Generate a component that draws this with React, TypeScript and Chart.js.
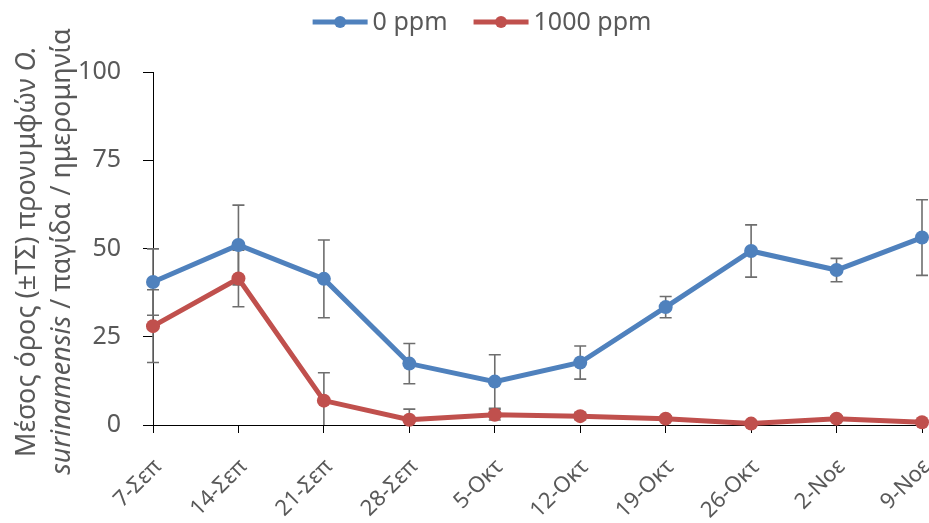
import React, { useEffect, useRef } from "react";
import { Chart, registerables } from "chart.js";

Chart.register(...registerables);

const categories = ["7-Σεπ", "14-Σεπ", "21-Σεπ", "28-Σεπ", "5-Οκτ", "12-Οκτ", "19-Οκτ", "26-Οκτ", "2-Νοε", "9-Νοε"];
const ppm0 = [40.5, 51, 41.4, 17.4, 12.3, 17.7, 33.4, 49.3, 43.9, 53.1];
const ppm0Err = [9.4, 11.3, 11, 5.7, 7.6, 4.7, 3, 7.4, 3.3, 10.7];
const ppm1000 = [28, 41.5, 6.9, 1.5, 2.9, 2.5, 1.8, 0.4, 1.8, 0.8];
const ppm1000Err = [10.3, 8, 7.9, 3, 1.5, 1, 0.8, 0.5, 0.8, 0.5];
const seriesLabels = ["0 ppm", "1000 ppm"];
const yTicks = [0, 25, 50, 75, 100];

const BLUE = "#4F81BD";
const RED = "#C0504D";
const TEXT = "#595959";
const FONT = "'Noto Sans', sans-serif";

const errorBarPlugin = {
  id: "errorBars",
  beforeDatasetsDraw(chart: any) {
    const ctx = chart.ctx;
    const y = chart.scales.y;
    const area = chart.chartArea;
    ctx.save();
    ctx.beginPath();
    ctx.rect(area.left - 20, area.top, area.right - area.left + 40, area.bottom - area.top);
    ctx.clip();
    ctx.strokeStyle = "#6E6E6E";
    ctx.lineWidth = 1.6;
    chart.data.datasets.forEach((ds: any, i: number) => {
      const meta = chart.getDatasetMeta(i);
      const errs = ds.errors || [];
      meta.data.forEach((pt: any, j: number) => {
        const v = ds.data[j];
        const e = errs[j] || 0;
        const x = pt.x;
        const yTop = y.getPixelForValue(v + e);
        const yBot = y.getPixelForValue(Math.max(0, v - e));
        ctx.beginPath();
        ctx.moveTo(x, yTop);
        ctx.lineTo(x, yBot);
        ctx.moveTo(x - 6, yTop);
        ctx.lineTo(x + 6, yTop);
        if (v - e >= 0) {
          ctx.moveTo(x - 6, yBot);
          ctx.lineTo(x + 6, yBot);
        }
        ctx.stroke();
      });
    });
    ctx.restore();
  },
};

const legendPlugin = {
  id: "customLegend",
  afterDraw(chart: any) {
    const ctx = chart.ctx;
    ctx.save();
    ctx.font = `25px ${FONT}`;
    const lineW = 55;
    const gapText = 5;
    const gapItem = 26;
    const items = chart.data.datasets.map((ds: any) => ({
      label: ds.label,
      color: ds.borderColor,
      w: ctx.measureText(ds.label).width,
    }));
    let total = 0;
    items.forEach((it: any, i: number) => {
      total += lineW + gapText + it.w + (i < items.length - 1 ? gapItem : 0);
    });
    let x = 482 - total / 2;
    const cy = 22;
    items.forEach((it: any) => {
      ctx.strokeStyle = it.color;
      ctx.lineWidth = 5;
      ctx.beginPath();
      ctx.moveTo(x, cy);
      ctx.lineTo(x + lineW, cy);
      ctx.stroke();
      ctx.fillStyle = it.color;
      ctx.beginPath();
      ctx.arc(x + lineW / 2, cy, 6, 0, Math.PI * 2);
      ctx.fill();
      ctx.fillStyle = TEXT;
      ctx.textAlign = "left";
      ctx.textBaseline = "middle";
      ctx.fillText(it.label, x + lineW + gapText, cy + 1);
      x += lineW + gapText + it.w + gapItem;
    });
    ctx.restore();
  },
};

const yTitleLines = [
  [
    { t: "Μέσος όρος (±ΤΣ) προνυμφών ", i: false },
    { t: "O.", i: true },
  ],
  [
    { t: "surinamensis", i: true },
    { t: " / παγίδα / ημερομηνία", i: false },
  ],
];

const yTitlePlugin = {
  id: "yTitle",
  afterDraw(chart: any) {
    const ctx = chart.ctx;
    const area = chart.chartArea;
    const cy = (area.top + area.bottom) / 2 + 3;
    const xs = [27, 62];
    const size = 27;
    ctx.save();
    ctx.fillStyle = TEXT;
    ctx.textBaseline = "middle";
    ctx.textAlign = "left";
    yTitleLines.forEach((segs, li) => {
      let total = 0;
      segs.forEach((s) => {
        ctx.font = `${s.i ? "italic " : ""}${size}px ${FONT}`;
        total += ctx.measureText(s.t).width;
      });
      ctx.save();
      ctx.translate(xs[li], cy);
      ctx.rotate(-Math.PI / 2);
      let x = -total / 2;
      segs.forEach((s) => {
        ctx.font = `${s.i ? "italic " : ""}${size}px ${FONT}`;
        ctx.fillText(s.t, x, 0);
        x += ctx.measureText(s.t).width;
      });
      ctx.restore();
    });
    ctx.restore();
  },
};

export default function App() {
  const ref = useRef<HTMLCanvasElement>(null);
  useEffect(() => {
    document.body.style.margin = "0";
    const canvas = ref.current!;
    const mk = (label: string, data: number[], errors: number[], color: string) =>
      ({
        label,
        data,
        errors,
        borderColor: color,
        backgroundColor: color,
        pointBackgroundColor: color,
        pointBorderColor: color,
        borderWidth: 5,
        pointRadius: 7,
        pointBorderWidth: 0,
        tension: 0,
        clip: false,
      } as any);
    const chart = new Chart(canvas, {
      type: "line",
      data: {
        labels: categories,
        datasets: [
          mk(seriesLabels[0], ppm0, ppm0Err, BLUE),
          mk(seriesLabels[1], ppm1000, ppm1000Err, RED),
        ],
      },
      options: {
        responsive: false,
        animation: false,
        layout: { padding: { top: 72, right: 0, left: 0, bottom: 0 } },
        plugins: {
          legend: { display: false },
          tooltip: { enabled: false },
        },
        scales: {
          x: {
            offset: false,
            grid: { drawOnChartArea: false, drawTicks: true, tickLength: 8, color: "#000" },
            border: { display: true, color: "#000", width: 1 },
            ticks: {
              color: TEXT,
              font: { family: FONT, size: 22 },
              maxRotation: 45,
              minRotation: 45,
              padding: 21,
              labelOffset: 5,
            },
            afterFit(scale: any) {
              scale.height = 98;
              scale.paddingRight = 0;
            },
          },
          y: {
            min: 0,
            max: 100,
            afterBuildTicks(scale: any) {
              scale.ticks = yTicks.map((v) => ({ value: v }));
            },
            grid: { drawOnChartArea: false, drawTicks: true, tickLength: 10, color: "#000" },
            border: { display: true, color: "#000", width: 1 },
            ticks: {
              color: TEXT,
              font: { family: FONT, size: 25 },
              padding: 22,
            },
            afterFit(scale: any) {
              scale.width = 153;
            },
          },
        },
      } as any,
      plugins: [errorBarPlugin, legendPlugin, yTitlePlugin],
    });
    return () => chart.destroy();
  }, []);
  return <canvas ref={ref} width={929} height={523} style={{ display: "block" }} />;
}
